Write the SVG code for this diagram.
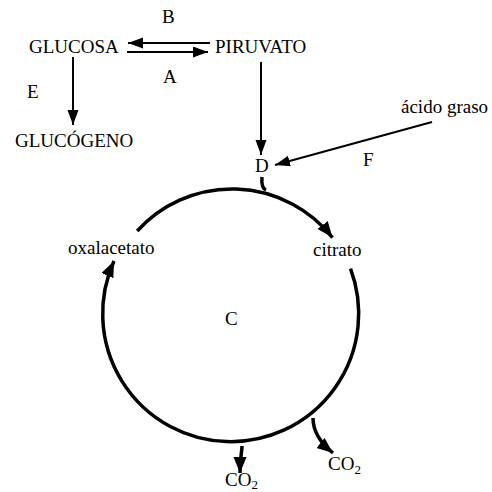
<svg xmlns="http://www.w3.org/2000/svg" width="492" height="492" viewBox="0 0 492 492">
  <style>
    text { font-family: "Liberation Serif", Tinos, "Times New Roman", Times, serif; font-size: 19px; fill: #000; }
    .ln { fill: none; stroke: #000; stroke-width: 2; }
    .cy { fill: none; stroke: #000; stroke-width: 3.5; }
  </style>
  <defs>
    <marker id="ah" markerUnits="userSpaceOnUse" markerWidth="16" markerHeight="12" refX="15" refY="5.5" orient="auto">
      <path d="M0,0 L15,5.5 L0,11 z" fill="#000"/>
    </marker>
    <marker id="ahc" markerUnits="userSpaceOnUse" markerWidth="18" markerHeight="14" refX="16" refY="6.5" orient="auto">
      <path d="M0,0 L16,6.5 L0,13 z" fill="#000"/>
    </marker>
  </defs>
  <rect width="492" height="492" fill="#fff"/>

  <g id="connectors">
    <line class="ln" x1="210" y1="43" x2="128" y2="43" marker-end="url(#ah)"/>
    <line class="ln" x1="127" y1="52" x2="208" y2="52" marker-end="url(#ah)"/>
    <line class="ln" x1="73" y1="57" x2="73" y2="125" marker-end="url(#ah)"/>
    <line class="ln" x1="261" y1="62" x2="261" y2="155" marker-end="url(#ah)"/>
    <line class="ln" x1="432" y1="122" x2="275" y2="165" marker-end="url(#ah)"/>
    <path class="cy" d="M262,177 Q261,188 266,190"/>
    <path class="cy" d="M137.2,231 A128,128 0 0 1 332.5,237.6" marker-end="url(#ahc)"/>
    <path class="cy" d="M350.5,268.6 A128,128 0 1 1 114,261" marker-end="url(#ahc)"/>
    <path class="cy" d="M313,418 C313,430 318,441 333,453" marker-end="url(#ahc)"/>
    <path class="cy" d="M242,446 C242,452 240,456 240,473" marker-end="url(#ahc)"/>
  </g>

  <g id="B"><text x="162" y="23">B</text></g>
  <g id="A"><text x="163" y="83">A</text></g>
  <g id="E"><text x="27" y="98">E</text></g>
  <g id="F"><text x="363" y="166">F</text></g>
  <g id="D"><text x="255" y="172">D</text></g>
  <g id="C"><text x="225" y="325">C</text></g>
  <g id="glucosa"><text x="29" y="53">GLUCOSA</text></g>
  <g id="piruvato"><text x="215" y="53">PIRUVATO</text></g>
  <g id="glucogeno"><text x="15" y="147">GLUCÓGENO</text></g>
  <g id="acido-graso"><text x="401" y="113">ácido graso</text></g>
  <g id="citrato"><text x="313" y="256">citrato</text></g>
  <g id="oxalacetato"><text x="68" y="254">oxalacetato</text></g>
  <g id="co2-a"><text x="328" y="470">CO<tspan font-size="13" dy="4">2</tspan></text></g>
  <g id="co2-b"><text x="225" y="486">CO<tspan font-size="13" dy="3">2</tspan></text></g>
</svg>
